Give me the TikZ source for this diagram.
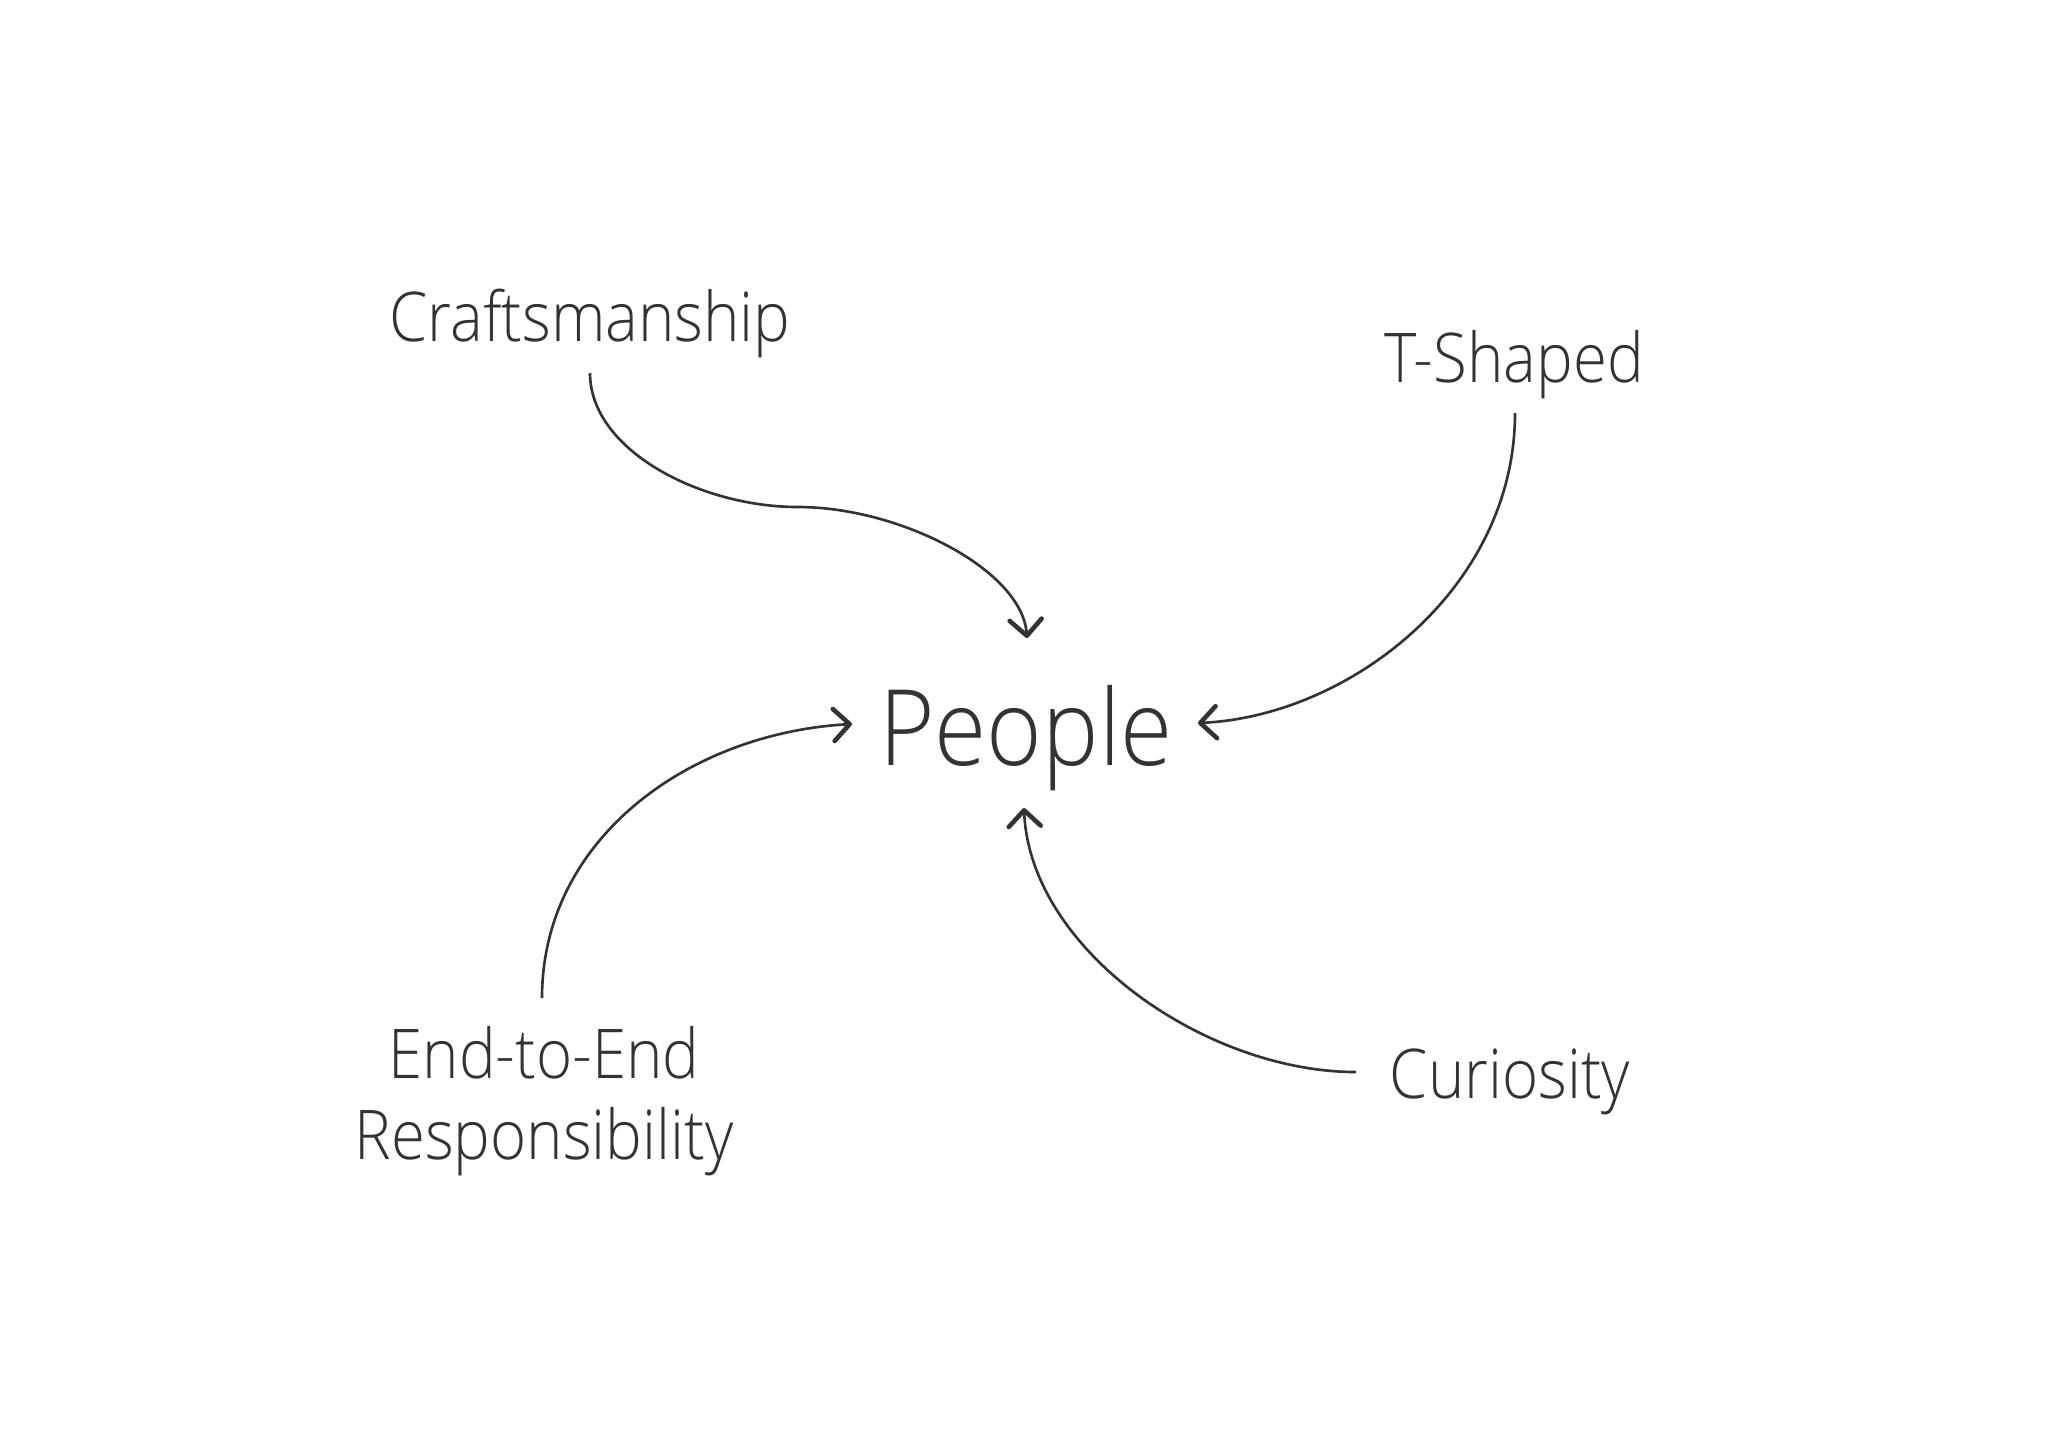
\documentclass[tikz,border=0pt]{standalone}
\usepackage{fontspec}
\setmainfont{Open Sans}[UprightFont=* Light,FakeStretch=0.9]
\usepackage{tikz}
\usetikzlibrary{arrows.meta,calc}
\definecolor{ink}{HTML}{333333}

\tikzset{
  value/.style={font=\fontsize{19.5}{23}\selectfont,text=ink,inner sep=0pt,anchor=base,align=center},
  centre/.style={font=\fontsize{30}{36}\selectfont,text=ink,inner sep=0pt,anchor=base},
  link/.style={draw=ink,line width=0.75pt,-{Straight Barb[length=1.6mm,width=3.2mm,line width=1.3pt,round]}}
}

\begin{document}
\begin{tikzpicture}[x=0.01cm,y=-0.01cm]
 \useasboundingbox[fill=white] (0,0) rectangle (2048,1447);
 \begin{scope}
  \node[centre] (people) at (1026,765) {People};
  \node[value] (craft) at (590,341) {Craftsmanship};
  \node[value] (tshape) at (1514,382) {T-Shaped};
  \node[value] (curious) at (1510,1098) {Curiosity};
  \node[value,anchor=north] (endtoend) at (544,1026) {End-to-End\\Responsibility};
 \end{scope}
 \begin{scope}
  \draw[link] ($(craft.base)+(0,32)$) .. controls +(0,77) and (700,507) .. (798,507)
              .. controls (900,507) and (1022,570) .. ($(people.base)+(1,-127)$);
  \draw[link] ($(tshape.base)+(1,31)$) .. controls +(0,175) and (1350,716) .. ($(people.base)+(172,-42)$);
  \draw[link] ($(endtoend.north)+(-2,-28)$) .. controls +(0,-160) and (690,733) .. ($(people.base)+(-174,-41)$);
  \draw[link] ($(curious.base)+(-154,-26)$) .. controls +(-150,0) and (1030,950) .. ($(people.base)+(-2,43)$);
 \end{scope}
\end{tikzpicture}
\end{document}
